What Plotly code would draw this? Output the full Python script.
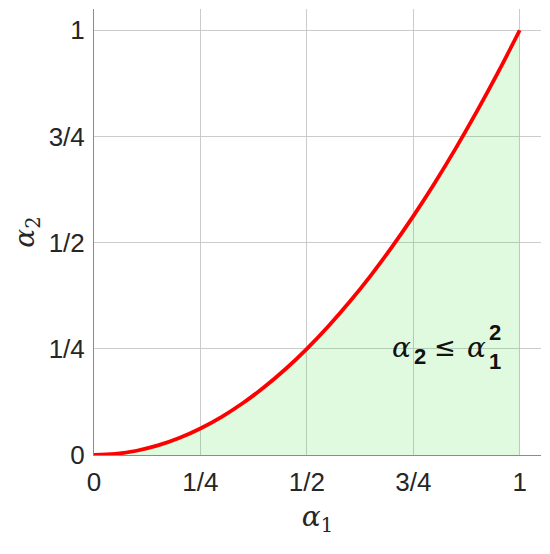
import plotly.graph_objects as go

alpha1 = [0, 0.05, 0.10, 0.15, 0.20, 0.25, 0.30, 0.35, 0.40, 0.45, 0.50,
          0.55, 0.60, 0.65, 0.70, 0.75, 0.80, 0.85, 0.90, 0.95, 1.0]
alpha2 = [0, 0.0025, 0.01, 0.0225, 0.04, 0.0625, 0.09, 0.1225, 0.16, 0.2025, 0.25,
          0.3025, 0.36, 0.4225, 0.49, 0.5625, 0.64, 0.7225, 0.81, 0.9025, 1.0]
tick_vals = [0, 0.25, 0.5, 0.75, 1]
tick_text = ["0", "1/4", "1/2", "3/4", "1"]

fig = go.Figure()
fig.add_trace(go.Scatter(
    x=alpha1, y=alpha2, mode="lines", line=dict(color="#ff0000", width=3.8, shape="spline"),
    fill="tozeroy", fillcolor="rgba(0,210,0,0.12)", showlegend=False, hoverinfo="skip"))

font = dict(family="Liberation Sans, Arial, sans-serif", size=26, color="#262626")
title_font = dict(family="DejaVu Serif", size=28, color="#262626")
axis_common = dict(
    range=[0, 1.05], tickvals=tick_vals, ticktext=tick_text, showgrid=True,
    gridcolor="rgba(195,195,195,0.85)", gridwidth=1, zeroline=False, automargin=False,
    showline=True, linecolor="#8c8c8c", linewidth=1, ticks="", tickfont=font,
)
fig.update_layout(
    width=550, height=554, margin=dict(l=86, r=17, t=1, b=107),
    plot_bgcolor="white", paper_bgcolor="white",
    xaxis=dict(**axis_common, title=dict(text="<i>α</i><sub>1</sub>", font=title_font, standoff=10)),
    yaxis=dict(**axis_common, title=dict(text="<i>α</i><sub>2</sub>", font=title_font, standoff=12)),
)
fig.update_xaxes(ticklabelstandoff=4)
fig.update_yaxes(ticklabelstandoff=3)

ann_font_a = dict(family="DejaVu Serif", size=28, color="#111111")
ann_font_n = dict(family="Liberation Sans, Arial", size=22, color="#111111")
pieces = [
    ("<i>α</i>", 0.696, 0.254, ann_font_a),
    ("<b>2</b>", 0.746, 0.233, ann_font_n),
    ("≤", 0.793, 0.254, dict(family="DejaVu Sans", size=26, color="#111111")),
    ("<i>α</i>", 0.871, 0.254, ann_font_a),
    ("<b>2</b>", 0.924, 0.289, ann_font_n),
    ("<b>1</b>", 0.924, 0.220, ann_font_n),
]
for txt, xx, yy, f in pieces:
    fig.add_annotation(x=xx, y=yy, xref="x", yref="y", showarrow=False, xanchor="left",
                       yanchor="middle", text=txt, font=f)

fig.write_html("out.html")
